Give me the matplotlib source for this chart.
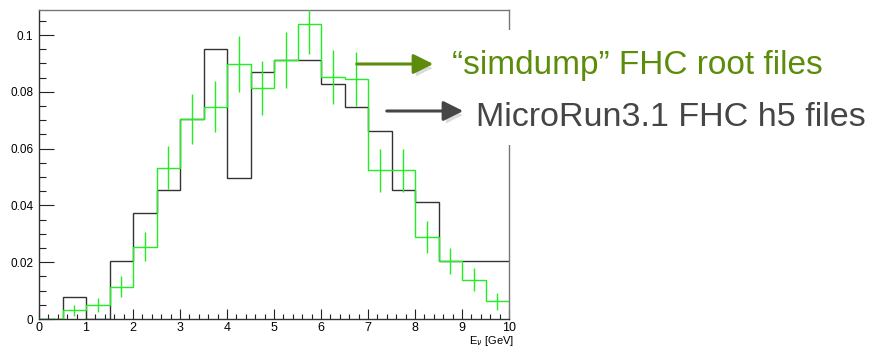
import numpy as np
import matplotlib
matplotlib.use("Agg")
import matplotlib.pyplot as plt
from matplotlib.patches import FancyArrowPatch, Rectangle
from matplotlib.ticker import MultipleLocator
import matplotlib.patheffects as pe

plt.rcParams['font.family'] = ['Liberation Sans', 'DejaVu Sans']

# bin edges 0..10 GeV, width 0.5
edges = np.arange(0, 10.01, 0.5)
# MicroRun3.1 FHC h5 files (black)
h5_vals = [0.0, 0.0079, 0.0, 0.0206, 0.0373, 0.0453, 0.0704, 0.0951, 0.0497, 0.0871,
           0.0911, 0.0911, 0.0826, 0.0745, 0.0661, 0.0453, 0.0412, 0.0206, 0.0206, 0.0206]
# "simdump" FHC root files (green) with errors
root_vals = [0.0, 0.0030, 0.0050, 0.0114, 0.0255, 0.0533, 0.0704, 0.0747, 0.0899, 0.0812,
             0.0911, 0.1039, 0.0853, 0.0846, 0.0524, 0.0524, 0.0288, 0.0204, 0.0138, 0.0062]
root_err = [0.0, 0.0018, 0.0025, 0.0037, 0.0052, 0.0075, 0.0088, 0.0090, 0.0098, 0.0095,
            0.0099, 0.0106, 0.0096, 0.0096, 0.0075, 0.0075, 0.0056, 0.0047, 0.0040, 0.0029]
xticks = [0, 1, 2, 3, 4, 5, 6, 7, 8, 9, 10]
yticks = [0, 0.02, 0.04, 0.06, 0.08, 0.1]
ytick_labels = ["0", "0.02", "0.04", "0.06", "0.08", "0.1"]

W, H = 881, 347
fig = plt.figure(figsize=(W / 100, H / 100), dpi=100)
ax = fig.add_axes([39 / W, (H - 319) / H, 470 / W, (319 - 9.5) / H])

green = '#22ee22'
ax.stairs(h5_vals, edges, baseline=None, color='#333333', lw=1.0, zorder=2)
ax.stairs(root_vals, edges, baseline=None, color=green, lw=1.0, zorder=3)
centers = (edges[:-1] + edges[1:]) / 2
ax.errorbar(centers[1:], root_vals[1:], yerr=root_err[1:], fmt='none',
            ecolor=green, elinewidth=1.0, capsize=0, zorder=3)

ax.set_xlim(0, 10)
ax.set_ylim(0, 0.109)
ax.set_xticks(xticks)
ax.set_yticks(yticks)
ax.set_yticklabels(ytick_labels)
ax.xaxis.set_minor_locator(MultipleLocator(0.2))
ax.yaxis.set_minor_locator(MultipleLocator(0.005))
ax.tick_params(axis='y', which='major', direction='in', length=10.5, width=0.8,
               labelsize=8.5, pad=4, color='#222222')
ax.tick_params(axis='y', which='minor', direction='in', length=5, width=0.8, color='#222222')
ax.tick_params(axis='x', which='major', direction='in', length=7, width=0.8,
               labelsize=9, pad=2, color='#222222')
ax.tick_params(axis='x', which='minor', direction='in', length=3.5, width=0.8, color='#222222')
for s in ['left', 'bottom']:
    ax.spines[s].set_color('#333333')
    ax.spines[s].set_linewidth(1.0)
for s in ['top', 'right']:
    ax.spines[s].set_color('#777777')
    ax.spines[s].set_linewidth(1.0)
fig.text(514 / W, 1 - 344.5 / H, r'E$_{\nu}$ [GeV]', fontsize=8,
         ha='right', va='baseline')

# white panel behind the annotation text (hides part of the frame)
fig.add_artist(Rectangle((495 / W, 1 - 145 / H), (W - 495) / W, 115 / H,
                         transform=fig.transFigure, facecolor='white',
                         edgecolor='none', zorder=2))

shadow = [pe.SimplePatchShadow(offset=(2, -3), shadow_rgbFace='#888888', alpha=0.3),
          pe.Normal()]
olive = '#5b8c0a'
grey = '#454545'
style = '-|>,head_length=4.8,head_width=2.4'
a1 = FancyArrowPatch((354 / W, 1 - 64 / H), (436 / W, 1 - 64 / H),
                     transform=fig.transFigure, arrowstyle=style,
                     mutation_scale=2.5, color=olive, lw=2.2, zorder=4)
a1.set_path_effects(shadow)
fig.add_artist(a1)
a2 = FancyArrowPatch((384 / W, 1 - 111 / H), (466 / W, 1 - 111 / H),
                     transform=fig.transFigure, arrowstyle=style,
                     mutation_scale=2.5, color=grey, lw=2.2, zorder=4)
a2.set_path_effects(shadow)
fig.add_artist(a2)

fig.text(452 / W, 1 - 74 / H, '\u201csimdump\u201d FHC root files', fontsize=24,
         color=olive, ha='left', va='baseline', zorder=5)
fig.text(476 / W, 1 - 126 / H, 'MicroRun3.1 FHC h5 files', fontsize=24.5,
         color=grey, ha='left', va='baseline', zorder=5)

fig.savefig('out.png', dpi=100)
